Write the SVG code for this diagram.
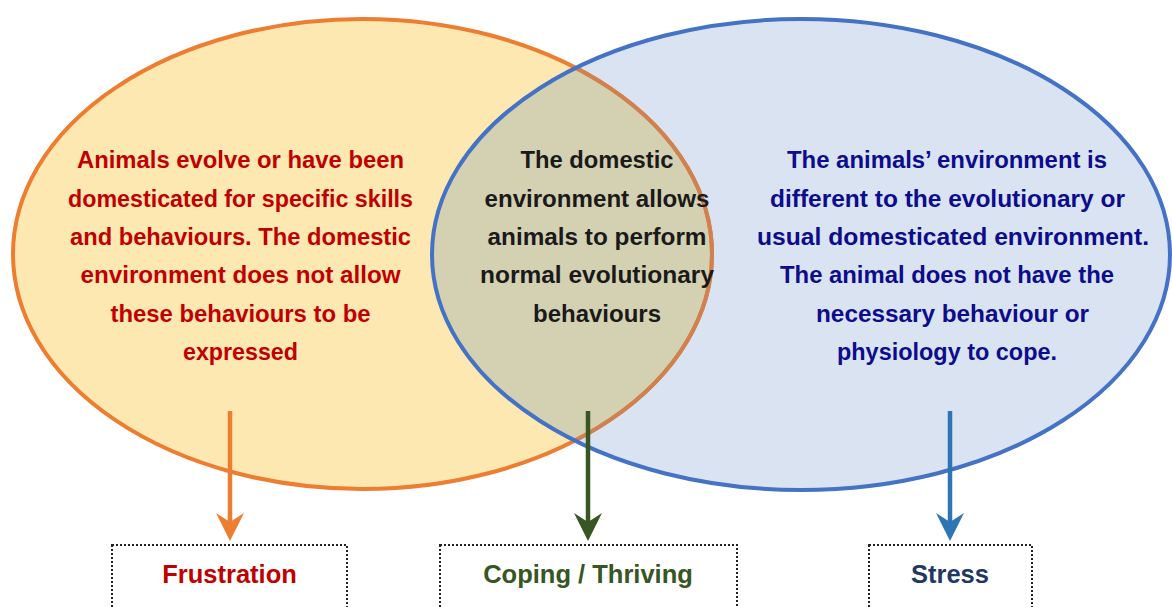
<svg xmlns="http://www.w3.org/2000/svg" width="1172" height="607" viewBox="0 0 1172 607">
  <style>
    .t { font-family: "Liberation Sans", Arial, sans-serif; font-weight: bold; font-size: 23px; text-anchor: middle; }
    .red { fill: #c00000; }
    .dark { fill: #1a1a1a; }
    .navy { fill: #0c0c8c; }
    .lbl { font-family: "Liberation Sans", Arial, sans-serif; font-weight: bold; font-size: 25.5px; text-anchor: middle; }
    .box { fill: #ffffff; stroke: #222222; stroke-width: 2; stroke-dasharray: 2 2; }
    .conn { fill: none; stroke-width: 4.5; }
  </style>
  <defs>
    <clipPath id="blueClip">
      <ellipse cx="801" cy="254.5" rx="369" ry="235.5"/>
    </clipPath>
    <marker id="ahO" markerUnits="userSpaceOnUse" markerWidth="30" markerHeight="30" viewBox="0 -15 30 30" refX="9" refY="0" orient="auto">
      <path d="M0,-14 L28,0 L0,14 L9,0 Z" fill="#ed7d31"/>
    </marker>
    <marker id="ahG" markerUnits="userSpaceOnUse" markerWidth="30" markerHeight="30" viewBox="0 -15 30 30" refX="9" refY="0" orient="auto">
      <path d="M0,-14 L28,0 L0,14 L9,0 Z" fill="#375623"/>
    </marker>
    <marker id="ahB" markerUnits="userSpaceOnUse" markerWidth="30" markerHeight="30" viewBox="0 -15 30 30" refX="9" refY="0" orient="auto">
      <path d="M0,-14 L28,0 L0,14 L9,0 Z" fill="#2e75b6"/>
    </marker>
  </defs>

  <rect x="0" y="0" width="1172" height="607" fill="#ffffff"/>

  <!-- Venn shapes -->
  <g id="venn-shapes">
    <ellipse cx="801" cy="254.5" rx="369" ry="235.5" fill="#d9e3f1"/>
    <ellipse cx="362.5" cy="254" rx="349.5" ry="235" fill="#fee8b2"/>
    <ellipse cx="362.5" cy="254" rx="349.5" ry="235" fill="#d4d1b2" clip-path="url(#blueClip)"/>
    <ellipse cx="362.5" cy="254" rx="349.5" ry="235" fill="none" stroke="#ed7d31" stroke-width="4"/>
    <ellipse cx="362.5" cy="254" rx="349.5" ry="235" fill="none" stroke="#cf8250" stroke-width="4" clip-path="url(#blueClip)"/>
    <ellipse cx="801" cy="254.5" rx="369" ry="235.5" fill="none" stroke="#4472c4" stroke-width="4"/>
  </g>

  <g id="left-set">
    <text class="t red" x="240.5" y="168" textLength="327" lengthAdjust="spacingAndGlyphs">Animals evolve or have been</text>
    <text class="t red" x="240.5" y="206.5" textLength="345" lengthAdjust="spacingAndGlyphs">domesticated for specific skills</text>
    <text class="t red" x="240.5" y="245" textLength="341" lengthAdjust="spacingAndGlyphs">and behaviours. The domestic</text>
    <text class="t red" x="240.5" y="283" textLength="320" lengthAdjust="spacingAndGlyphs">environment does not allow</text>
    <text class="t red" x="240.5" y="321.5" textLength="260" lengthAdjust="spacingAndGlyphs">these behaviours to be</text>
    <text class="t red" x="240.5" y="360" textLength="115" lengthAdjust="spacingAndGlyphs">expressed</text>
  </g>

  <g id="overlap">
    <text class="t dark" x="597" y="168" textLength="153" lengthAdjust="spacingAndGlyphs">The domestic</text>
    <text class="t dark" x="597" y="206.5" textLength="225" lengthAdjust="spacingAndGlyphs">environment allows</text>
    <text class="t dark" x="597" y="245" textLength="219" lengthAdjust="spacingAndGlyphs">animals to perform</text>
    <text class="t dark" x="597" y="283" textLength="234" lengthAdjust="spacingAndGlyphs">normal evolutionary</text>
    <text class="t dark" x="597" y="321.5" textLength="128" lengthAdjust="spacingAndGlyphs">behaviours</text>
  </g>

  <g id="right-set">
    <text class="t navy" x="947" y="168" textLength="320" lengthAdjust="spacingAndGlyphs">The animals’ environment is</text>
    <text class="t navy" x="947.5" y="206.5" textLength="355" lengthAdjust="spacingAndGlyphs">different to the evolutionary or</text>
    <text class="t navy" x="953" y="245" textLength="392" lengthAdjust="spacingAndGlyphs">usual domesticated environment.</text>
    <text class="t navy" x="947" y="283" textLength="334" lengthAdjust="spacingAndGlyphs">The animal does not have the</text>
    <text class="t navy" x="952.5" y="321.5" textLength="273" lengthAdjust="spacingAndGlyphs">necessary behaviour or</text>
    <text class="t navy" x="947" y="360" textLength="220" lengthAdjust="spacingAndGlyphs">physiology to cope.</text>
  </g>

  <g id="connectors">
    <line class="conn" x1="230" y1="411" x2="230" y2="522" stroke="#ed7d31" marker-end="url(#ahO)"/>
    <line class="conn" x1="588" y1="411" x2="588" y2="522" stroke="#375623" marker-end="url(#ahG)"/>
    <line class="conn" x1="950" y1="411" x2="950" y2="522" stroke="#2e75b6" marker-end="url(#ahB)"/>
  </g>

  <g id="box-frustration">
    <rect class="box" x="112" y="545" width="235" height="80"/>
    <text class="lbl" x="229.5" y="583" fill="#c00000">Frustration</text>
  </g>
  <g id="box-coping">
    <rect class="box" x="440" y="545" width="297" height="80"/>
    <text class="lbl" x="588" y="583" fill="#375623">Coping / Thriving</text>
  </g>
  <g id="box-stress">
    <rect class="box" x="869" y="545" width="163" height="80"/>
    <text class="lbl" x="950" y="583" fill="#1f3864">Stress</text>
  </g>
</svg>
